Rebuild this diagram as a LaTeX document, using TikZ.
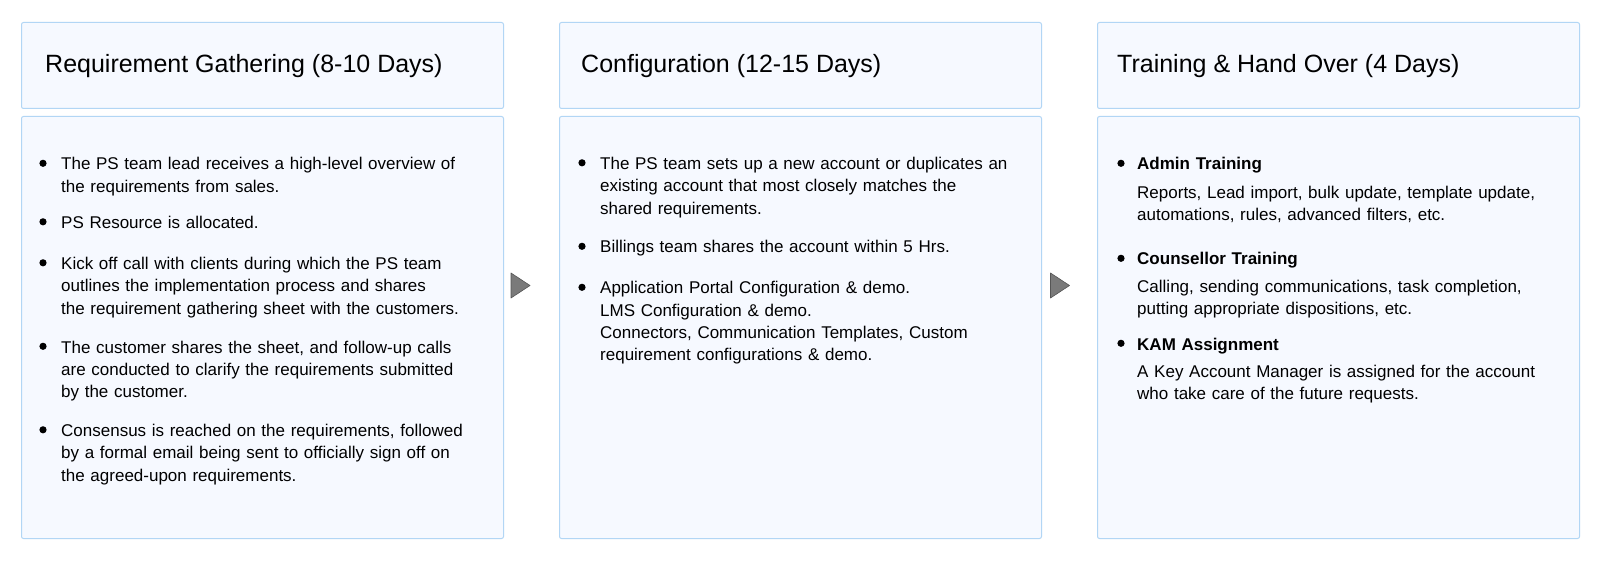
\documentclass[tikz,border=0pt]{standalone}
\usepackage{fontspec}
\setmainfont{Liberation Sans}
\definecolor{boxfill}{RGB}{246,249,255}
\definecolor{boxline}{RGB}{178,214,245}
\definecolor{tipgray}{RGB}{122,122,122}
\tikzset{
	panel/.style={draw=boxline,fill=boxfill,line width=1pt,rounded corners=2pt,anchor=north west,inner sep=0pt,minimum width=482pt},
	headbox/.style={panel,minimum height=86pt},
	bodybox/.style={panel,minimum height=422pt},
	title/.style={anchor=base west,inner sep=0pt,font=\fontsize{25}{30}\selectfont},
	item/.style={anchor=base west,inner sep=0pt,align=left,text width=440pt,font=\fontsize{17}{22.3}\selectfont},
	itemhead/.style={item,font=\fontsize{17}{22.3}\selectfont\bfseries},
	tip/.style={fill=tipgray,draw=tipgray!70!black,line width=0.6pt,line join=round}
}
\begin{document}
\begin{tikzpicture}[x=1pt,y=-1pt]
		\useasboundingbox[fill=white] (0,0) rectangle (1600,561);
		% panels
		\node[headbox] (h1) at (21,22) {};
		\node[bodybox] (b1) at (21,116) {};
		\node[headbox] (h2) at (559,22) {};
		\node[bodybox] (b2) at (559,116) {};
		\node[headbox] (h3) at (1097,22) {};
		\node[bodybox] (b3) at (1097,116) {};
		\node[title] (t1) at (45,72.7) {Requirement Gathering (8-10 Days)};
		\node[title] (t2) at (581,72.7) {Configuration (12-15 Days)};
		\node[title] (t3) at (1117,72.7) {Training \& Hand Over (4 Days)};
		% arrows between the stages
		\coordinate (a1) at (511,273);
		\coordinate (a2) at (1050.5,273);
		\filldraw[tip] (a1) -- ++(19,12.5) -- ++(-19,12.5) -- cycle;
		\filldraw[tip] (a2) -- ++(19,12.5) -- ++(-19,12.5) -- cycle;
		% requirement gathering
		\node[item] (r1) at (61,170) {The PS team lead receives a high-level overview of\\the requirements from sales.};
		\node[item] (r2) at (61,228.5) {PS Resource is allocated.};
		\node[item] (r3) at (61,269.5) {Kick off call with clients during which the PS team\\outlines the implementation process and shares\\the requirement gathering sheet with the customers.};
		\node[item] (r4) at (61,353) {The customer shares the sheet, and follow-up calls\\are conducted to clarify the requirements submitted\\by the customer.};
		\node[item] (r5) at (61,436.5) {Consensus is reached on the requirements, followed\\by a formal email being sent to officially sign off on\\the agreed-upon requirements.};
		\foreach \y in {170,228.5,269.5,353,436.5}
			\fill (43,\y-6.7) circle (3.6);
		% configuration
		\node[item] (c1) at (600,169.5) {The PS team sets up a new account or duplicates an\\existing account that most closely matches the\\shared requirements.};
		\node[item] (c2) at (600,253) {Billings team shares the account within 5 Hrs.};
		\node[item] (c3) at (600,294) {Application Portal Configuration \& demo.\\LMS Configuration \& demo.\\Connectors, Communication Templates, Custom\\requirement configurations \& demo.};
		\foreach \y in {169.5,253,294}
			\fill (582,\y-6.7) circle (3.6);
		% training and hand over
		\node[itemhead] (k1) at (1137,170) {Admin Training};
		\node[item] (d1) at (1137,198.3) {Reports, Lead import, bulk update, template update,\\automations, rules, advanced filters, etc.};
		\node[itemhead] (k2) at (1137,265) {Counsellor Training};
		\node[item] (d2) at (1137,292.5) {Calling, sending communications, task completion,\\putting appropriate dispositions, etc.};
		\node[itemhead] (k3) at (1137,350) {KAM Assignment};
		\node[item] (d3) at (1137,377.5) {A Key Account Manager is assigned for the account\\who take care of the future requests.};
		\foreach \y in {170,265,350}
			\fill (1121,\y-6.7) circle (3.6);
	\end{tikzpicture}
\end{document}
